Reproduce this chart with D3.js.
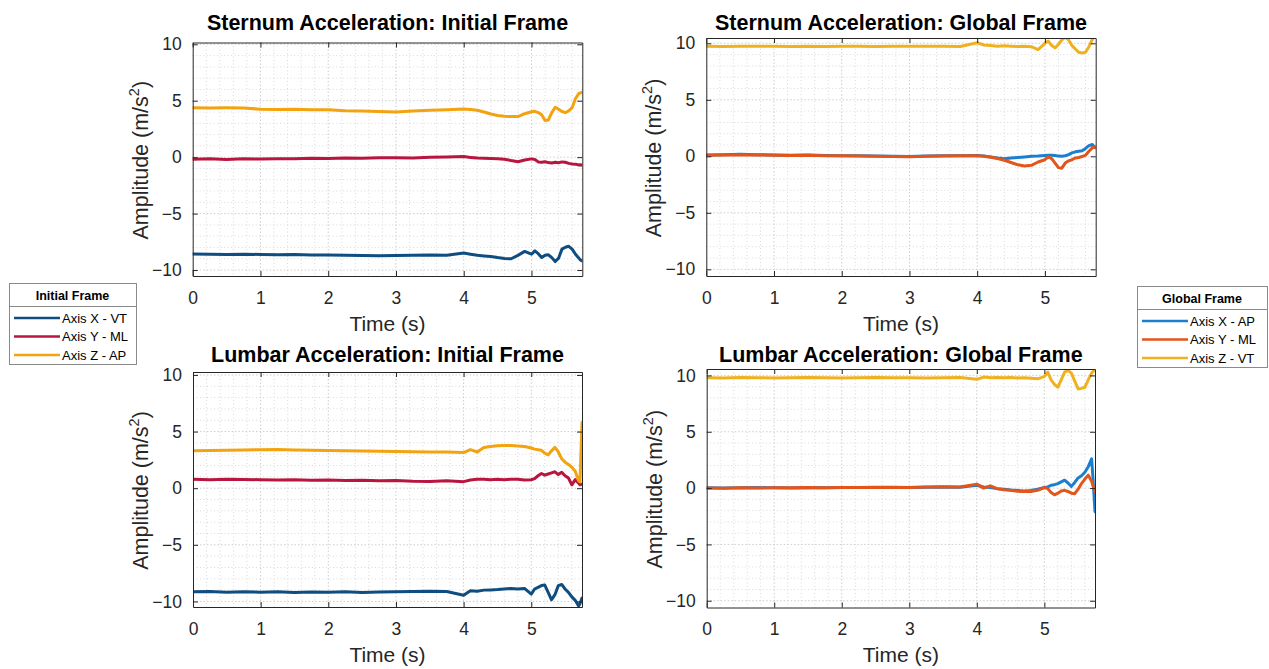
<!DOCTYPE html>
<html>
<head>
<meta charset="utf-8">
<script src="https://cdn.jsdelivr.net/npm/d3@7"></script>
<style>
  body { margin: 0; background: #fff; }
  svg { display: block; }
  text { font-family: "Liberation Sans", Arial, Helvetica, sans-serif; }
</style>
</head>
<body>
<svg id="fig" width="1269" height="669"></svg>
<script>
// ---- data (s, m/s^2) ----
const time = [0, 0.25, 0.5, 0.75, 1, 1.25, 1.5, 1.75, 2, 2.25, 2.5, 2.75, 3, 3.25, 3.5, 3.75,
  4.0, 4.1, 4.2, 4.3, 4.4, 4.5, 4.6, 4.7, 4.8, 4.9, 5.0, 5.05, 5.1, 5.15, 5.2, 5.25, 5.3, 5.35,
  5.4, 5.45, 5.5, 5.55, 5.6, 5.65, 5.7, 5.72, 5.75];

// Sternum, initial frame
const sternumInitX = [-8.58, -8.6, -8.62, -8.6, -8.62, -8.65, -8.63, -8.68, -8.66, -8.7, -8.72, -8.74, -8.72, -8.7, -8.68, -8.7,
  -8.5, -8.6, -8.7, -8.75, -8.8, -8.9, -8.98, -9.0, -8.7, -8.35, -8.6, -8.3, -8.55, -8.88, -8.7, -8.65, -8.9, -9.25,
  -8.95, -8.15, -7.98, -7.9, -8.15, -8.6, -8.95, -9.1, -9.2];
const sternumInitY = [-0.18, -0.15, -0.2, -0.15, -0.17, -0.13, -0.15, -0.1, -0.12, -0.08, -0.1, -0.05, -0.05, -0.08, 0.0, 0.02,
  0.05, -0.02, -0.08, -0.1, -0.12, -0.15, -0.18, -0.3, -0.4, -0.25, -0.15, -0.2, -0.42, -0.45, -0.4, -0.48, -0.52, -0.45,
  -0.5, -0.42, -0.45, -0.55, -0.6, -0.62, -0.7, -0.68, -0.72];
const sternumInitZ = [4.38, 4.35, 4.37, 4.36, 4.25, 4.22, 4.24, 4.2, 4.2, 4.12, 4.08, 4.05, 4.0, 4.08, 4.15, 4.2,
  4.27, 4.22, 4.15, 4.0, 3.82, 3.7, 3.62, 3.6, 3.6, 3.85, 4.02, 4.06, 3.95, 3.75, 3.25, 3.3, 3.95, 4.42,
  4.25, 4.05, 3.95, 4.1, 4.4, 5.2, 5.65, 5.7, 5.72];

// Sternum, global frame
const sternumGlobX = [0.12, 0.15, 0.18, 0.14, 0.12, 0.1, 0.12, 0.08, 0.05, 0.04, 0.02, 0.0, -0.02, 0.02, 0.04, 0.06,
  0.08, 0.02, -0.05, -0.15, -0.22, -0.15, -0.1, -0.05, 0.0, 0.02, 0.08, 0.1, 0.1, 0.08, 0.02, 0.0, 0.05, 0.15,
  0.3, 0.4, 0.45, 0.5, 0.7, 0.95, 1.05, 0.9, 0.8];
const sternumGlobY = [0.1, 0.12, 0.15, 0.12, 0.1, 0.08, 0.1, 0.06, 0.04, 0.02, 0.0, -0.02, -0.04, 0.0, 0.03, 0.05,
  0.05, 0.0, -0.08, -0.2, -0.35, -0.55, -0.75, -0.85, -0.8, -0.5, -0.3, -0.05, -0.2, -0.6, -1.0, -1.05, -0.6, -0.4,
  -0.3, -0.15, -0.1, -0.02, 0.1, 0.45, 0.75, 0.8, 0.75];
const sternumGlobZ = [9.75, 9.72, 9.75, 9.73, 9.75, 9.72, 9.74, 9.72, 9.75, 9.73, 9.72, 9.74, 9.73, 9.75, 9.74, 9.72,
  10.05, 9.85, 9.8, 9.75, 9.78, 9.75, 9.72, 9.75, 9.7, 9.45, 10.0, 10.2, 9.8, 9.6, 9.9, 10.3, 10.55, 10.3,
  9.8, 9.5, 9.2, 9.15, 9.2, 9.7, 10.35, 10.55, 10.6];

// Lumbar, initial frame
const lumbarInitX = [-9.15, -9.12, -9.18, -9.15, -9.18, -9.15, -9.2, -9.17, -9.18, -9.15, -9.2, -9.17, -9.15, -9.12, -9.1, -9.12,
  -9.45, -9.05, -9.1, -9.0, -8.98, -8.95, -8.9, -8.85, -8.9, -8.85, -9.35, -8.9, -8.75, -8.6, -8.55, -9.2, -9.85, -9.4,
  -8.6, -8.5, -8.9, -9.2, -9.6, -9.9, -10.4, -10.2, -9.7];
const lumbarInitY = [0.78, 0.75, 0.8, 0.77, 0.75, 0.72, 0.74, 0.7, 0.72, 0.68, 0.7, 0.66, 0.68, 0.62, 0.6, 0.65,
  0.58, 0.72, 0.78, 0.8, 0.75, 0.78, 0.75, 0.8, 0.78, 0.72, 0.75, 0.85, 1.1, 1.3, 1.15, 1.25, 1.35, 1.45,
  1.2, 1.4, 1.1, 0.9, 0.3, 0.75, 0.45, 0.3, 0.35];
const lumbarInitZ = [3.3, 3.32, 3.35, 3.38, 3.4, 3.42, 3.38, 3.35, 3.32, 3.3, 3.28, 3.27, 3.25, 3.22, 3.2, 3.2,
  3.15, 3.4, 3.2, 3.6, 3.68, 3.75, 3.78, 3.76, 3.72, 3.68, 3.55, 3.45, 3.4, 3.35, 3.1, 2.95, 3.3, 3.6,
  3.2, 2.6, 2.3, 2.1, 1.85, 1.5, 0.65, 0.55, 5.8];

// Lumbar, global frame
const lumbarGlobX = [0.02, 0.0, 0.03, 0.05, 0.02, 0.0, 0.04, 0.02, 0.05, 0.06, 0.05, 0.08, 0.06, 0.08, 0.1, 0.08,
  0.25, 0.1, 0.05, -0.05, -0.1, -0.18, -0.22, -0.25, -0.22, -0.1, 0.05, 0.1, 0.25, 0.3, 0.4, 0.55, 0.7, 0.45,
  0.15, 0.5, 0.9, 1.1, 1.4, 1.9, 2.6, 0.9, -2.1];
const lumbarGlobY = [0.0, -0.02, 0.02, 0.0, 0.03, 0.02, 0.05, 0.04, 0.06, 0.05, 0.08, 0.06, 0.05, 0.1, 0.12, 0.1,
  0.35, 0.0, 0.2, -0.05, -0.15, -0.2, -0.28, -0.3, -0.3, -0.2, 0.05, -0.05, -0.4, -0.6, -0.45, -0.25, -0.2, -0.3,
  -0.45, -0.5, -0.1, 0.4, 0.8, 1.15, 0.6, 0.2, -0.3];
const lumbarGlobZ = [9.8, 9.78, 9.82, 9.8, 9.78, 9.8, 9.82, 9.8, 9.78, 9.8, 9.82, 9.8, 9.8, 9.78, 9.8, 9.82,
  9.65, 9.85, 9.8, 9.82, 9.8, 9.82, 9.78, 9.8, 9.75, 9.7, 9.9, 10.3, 9.6, 9.2, 8.95, 9.6, 10.3, 10.45,
  10.2, 9.5, 8.8, 8.85, 8.95, 9.6, 10.2, 10.35, 10.45];

const xTicks = [0, 1, 2, 3, 4, 5];
const yTicks = [-10, -5, 0, 5, 10];
const initialLabels = ["Axis X - VT", "Axis Y - ML", "Axis Z - AP"];
const globalLabels = ["Axis X - AP", "Axis Y - ML", "Axis Z - VT"];
const initialColors = ["#0f4c7f", "#b8163f", "#f2a30f"];
const globalColors = ["#1b7fd0", "#e2561b", "#efb21e"];

// ---- layout ----
const panels = [
  { title: "Sternum Acceleration: Initial Frame", series: [sternumInitX, sternumInitY, sternumInitZ], colors: initialColors,
    x0: 192.7, x1: 582.3, y0: 42.5, y1: 276, yDom: [-10.53, 10.16], titleY: 30, tickY: 304, labelY: 331 },
  { title: "Sternum Acceleration: Global Frame", series: [sternumGlobX, sternumGlobY, sternumGlobZ], colors: globalColors,
    x0: 706.3, x1: 1095.7, y0: 38, y1: 276, yDom: [-10.59, 10.47], titleY: 30, tickY: 304, labelY: 331 },
  { title: "Lumbar Acceleration: Initial Frame", series: [lumbarInitX, lumbarInitY, lumbarInitZ], colors: initialColors,
    x0: 193, x1: 582, y0: 372, y1: 607, yDom: [-10.49, 10.26], titleY: 361.5, tickY: 634.5, labelY: 662 },
  { title: "Lumbar Acceleration: Global Frame", series: [lumbarGlobX, lumbarGlobY, lumbarGlobZ], colors: globalColors,
    x0: 706.7, x1: 1095, y0: 369, y1: 607.5, yDom: [-10.6, 10.57], titleY: 361.5, tickY: 634.5, labelY: 662 }
];

const svg = d3.select("#fig");
const axisColor = "#262626";

panels.forEach((p, i) => {
  const x = d3.scaleLinear().domain([0, 5.75]).range([p.x0, p.x1]);
  const y = d3.scaleLinear().domain(p.yDom).range([p.y1, p.y0]);
  const g = svg.append("g");

  // grid: minor (0.2 s, 1 m/s^2) and major, dotted
  const minorX = d3.range(0.2, 5.75, 0.2).filter(v => Math.abs(v - Math.round(v)) > 1e-6);
  const minorY = d3.range(-10, 10.6, 1).filter(v => Math.abs(v % 5) > 1e-6);
  const grid = g.append("g").attr("fill", "none");
  grid.selectAll(".mx").data(minorX).join("line")
    .attr("x1", d => x(d)).attr("x2", d => x(d)).attr("y1", p.y0).attr("y2", p.y1)
    .attr("stroke", "#d9d9d9").attr("stroke-dasharray", "1,2.5");
  grid.selectAll(".my").data(minorY).join("line")
    .attr("y1", d => y(d)).attr("y2", d => y(d)).attr("x1", p.x0).attr("x2", p.x1)
    .attr("stroke", "#d9d9d9").attr("stroke-dasharray", "1,2.5");
  grid.selectAll(".gx").data(xTicks.slice(1)).join("line")
    .attr("x1", d => x(d)).attr("x2", d => x(d)).attr("y1", p.y0).attr("y2", p.y1)
    .attr("stroke", "#cdcdcd").attr("stroke-dasharray", "1.5,2");
  grid.selectAll(".gy").data(yTicks).join("line")
    .attr("y1", d => y(d)).attr("y2", d => y(d)).attr("x1", p.x0).attr("x2", p.x1)
    .attr("stroke", "#cdcdcd").attr("stroke-dasharray", "1.5,2");

  // data lines
  const clipId = "clip" + i;
  svg.append("clipPath").attr("id", clipId).append("rect")
    .attr("x", p.x0).attr("y", p.y0).attr("width", p.x1 - p.x0).attr("height", p.y1 - p.y0);
  const line = d3.line().x((d, k) => x(time[k])).y(d => y(d));
  const lines = g.append("g").attr("clip-path", `url(#${clipId})`);
  p.series.forEach((s, k) => {
    lines.append("path").datum(s).attr("d", line)
      .attr("fill", "none").attr("stroke", p.colors[k]).attr("stroke-width", 3)
      .attr("stroke-linejoin", "round").attr("stroke-linecap", "round");
  });

  // axes with inward ticks, box on
  const styleAxis = sel => {
    sel.select(".domain").attr("stroke", axisColor).attr("stroke-width", 1);
    sel.selectAll(".tick line").attr("stroke", axisColor);
    sel.selectAll(".tick text").attr("fill", axisColor).attr("font-size", 17.5)
      .attr("font-family", "'Liberation Sans', Arial, sans-serif");
  };
  const bottom = g.append("g").attr("transform", `translate(0,${p.y1})`)
    .call(d3.axisBottom(x).tickValues(xTicks).tickSizeInner(-5).tickSizeOuter(0).tickPadding(0).tickFormat(d3.format("d")))
    .call(styleAxis);
  bottom.selectAll(".tick text").attr("dy", null).attr("y", p.tickY - p.y1);
  g.append("g").attr("transform", `translate(0,${p.y0})`)
    .call(d3.axisTop(x).tickValues(xTicks).tickSizeInner(-5).tickSizeOuter(0).tickFormat(""))
    .call(styleAxis);
  g.append("g").attr("transform", `translate(${p.x0},0)`)
    .call(d3.axisLeft(y).tickValues(yTicks).tickSizeInner(-5).tickSizeOuter(0).tickPadding(11).tickFormat(d3.format("d")))
    .call(styleAxis);
  g.append("g").attr("transform", `translate(${p.x1},0)`)
    .call(d3.axisRight(y).tickValues(yTicks).tickSizeInner(-5).tickSizeOuter(0).tickFormat(""))
    .call(styleAxis);

  // title and labels
  g.append("text").attr("x", (p.x0 + p.x1) / 2).attr("y", p.titleY).attr("text-anchor", "middle")
    .attr("font-size", 21.5).attr("font-weight", "bold").attr("fill", "#000").text(p.title);
  g.append("text").attr("x", (p.x0 + p.x1) / 2).attr("y", p.labelY).attr("text-anchor", "middle")
    .attr("font-size", 21).attr("fill", axisColor).text("Time (s)");
  const yl = g.append("text").attr("transform", `translate(${p.x0 - 45},${(p.y0 + p.y1) / 2 + 1}) rotate(-90)`)
    .attr("text-anchor", "middle").attr("font-size", 21.5).attr("fill", axisColor);
  yl.append("tspan").text("Amplitude (m/s");
  yl.append("tspan").attr("font-size", 14.5).attr("dy", -9).text("2");
  yl.append("tspan").attr("dy", 9).text(")");
});

// ---- legends ----
function legend(x0, y0, w, h, title, labels, colors) {
  const g = svg.append("g");
  g.append("rect").attr("x", x0 + 0.5).attr("y", y0 + 0.5).attr("width", w).attr("height", h)
    .attr("fill", "#fff").attr("stroke", "#8a8a8a").attr("stroke-width", 1);
  g.append("text").attr("x", x0 + w / 2).attr("y", y0 + 17).attr("text-anchor", "middle")
    .attr("font-size", 12.5).attr("font-weight", "bold").attr("fill", "#000").text(title);
  g.append("line").attr("x1", x0).attr("x2", x0 + w).attr("y1", y0 + 23.5).attr("y2", y0 + 23.5)
    .attr("stroke", "#8a8a8a");
  labels.forEach((lab, k) => {
    const cy = y0 + 35 + k * 18.5;
    g.append("line").attr("x1", x0 + 5).attr("x2", x0 + 51).attr("y1", cy).attr("y2", cy)
      .attr("stroke", colors[k]).attr("stroke-width", 2.5);
    g.append("text").attr("x", x0 + 53).attr("y", cy + 4.5).attr("font-size", 13)
      .attr("fill", "#000").text(lab);
  });
}
legend(9, 283, 127, 81, "Initial Frame", initialLabels, initialColors);
legend(1137, 286, 130, 81, "Global Frame", globalLabels, globalColors);
</script>
</body>
</html>
